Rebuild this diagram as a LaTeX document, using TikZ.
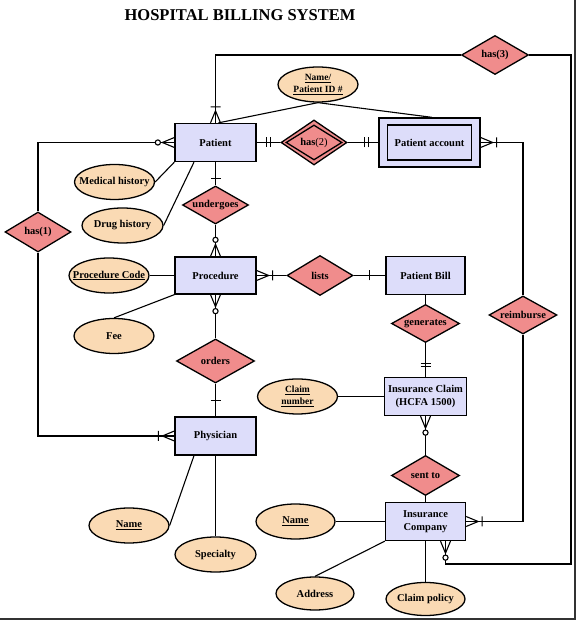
\documentclass[tikz,border=0pt]{standalone}
\usepackage{fontspec}
\setmainfont{Liberation Serif}
\usetikzlibrary{shapes.geometric, positioning, decorations.markings}

\definecolor{entfill}{RGB}{221,221,250}
\definecolor{attfill}{RGB}{250,218,180}
\definecolor{relfill}{RGB}{240,140,140}

\tikzset{
    endmark/.style={line width=1.1pt},
    oneend/.style={postaction={decorate, decoration={markings, mark=at position 1 with {\draw[endmark] (-16pt,-5pt) -- (-16pt,5pt);}}}},
    onlyone/.style={postaction={decorate, decoration={markings, mark=at position 1 with {\draw[endmark] (-10pt,-5pt) -- (-10pt,5pt) (-13.5pt,-5pt) -- (-13.5pt,5pt);}}}},
    onemany/.style={postaction={decorate, decoration={markings, mark=at position 1 with {\draw[endmark] (-12pt,0pt) -- (0pt,5pt) (-12pt,0pt) -- (0pt,-5pt) (-16pt,-5pt) -- (-16pt,5pt);}}}},
    zeromany/.style={postaction={decorate, decoration={markings, mark=at position 1 with {\draw[endmark] (-12pt,0pt) -- (0pt,5pt) (-12pt,0pt) -- (0pt,-5pt); \draw[endmark, fill=white] (-16.5pt,0pt) circle (2.6pt);}}}}
}

\begin{document}
\begin{tikzpicture}[
    x=1pt, y=1pt,
    node distance=100pt,
    entity/.style={rectangle, draw=black, line width=1.3pt, fill=entfill, minimum width=81pt, minimum height=38pt, align=center, font=\bfseries\fontsize{10.5}{12.5}\selectfont},
    attribute/.style={ellipse, draw=black, line width=1.3pt, fill=attfill, minimum width=80pt, minimum height=35pt, inner xsep=-12pt, inner ysep=0pt, align=center, font=\bfseries\fontsize{10.5}{12}\selectfont},
    relation/.style={diamond, draw=black, line width=1.3pt, fill=relfill, aspect=1.75, inner sep=0pt, minimum width=66pt, minimum height=40pt, font=\bfseries\fontsize{10.5}{12}\selectfont},
    connector/.style={line width=1.1pt}
]
\useasboundingbox (0,0) rectangle (576,620);

\node (title) at (240,605) [font=\bfseries\fontsize{16.5}{20}\selectfont] {HOSPITAL BILLING SYSTEM};

% entities and relations
\node (patient) [entity] at (215.5,477.5) {Patient};
\node (has2) [relation, node distance=98.5pt, right of=patient, minimum height=45pt] {};
\node (has2in) [relation, minimum width=56pt, minimum height=35pt] at (has2) {has\textmd{(2)}};
\node (account) [entity, node distance=115.5pt, right of=has2, minimum width=101pt, minimum height=49pt] {};
\node (accountin) [entity, minimum width=84pt, minimum height=35pt] at (account) {Patient account};
\node (undergoes) [relation, node distance=62.5pt, below of=patient, minimum height=38pt] {undergoes};
\node (procedure) [entity, node distance=70.5pt, below of=undergoes, minimum height=37pt] {Procedure};
\node (orders) [relation, node distance=85.5pt, below of=procedure, minimum width=78pt, minimum height=44pt] {orders};
\node (physician) [entity, node distance=75pt, below of=orders] {Physician};
\node (lists) [relation, node distance=104.5pt, right of=procedure] {lists};
\node (bill) [entity, node distance=105.5pt, right of=lists, minimum width=79pt] {Patient Bill};
\node (generates) [relation, node distance=48pt, below of=bill, minimum width=68pt, minimum height=38pt] {generates};
\node (claim) [entity, node distance=73pt, below of=generates, minimum width=79pt] {Insurance Claim\\(HCFA 1500)};
\node (sentto) [relation, node distance=79pt, below of=claim, minimum width=68pt] {sent to};
\node (company) [entity, node distance=46pt, below of=sentto, minimum width=80pt] {Insurance\\Company};
\node (reimburse) [relation, minimum width=68pt, minimum height=38pt] at (523,305) {reimburse};
\node (has1) [relation] at (38,388) {has(1)};
\node (has3) [relation, minimum width=67pt, minimum height=39pt] at (495,565) {has(3)};

% attributes
\node (nameid) [attribute, font=\bfseries\fontsize{9.5}{11.5}\selectfont] at (318,535.5) {\underline{Name/}\\\underline{Patient ID \#}};
\node (medhist) [attribute] at (114.5,438) {Medical history};
\node (drughist) [attribute, minimum width=81pt] at (122.5,394.5) {Drug history};
\node (proccode) [attribute, node distance=106.5pt, left of=procedure] {\underline{Procedure Code}};
\node (fee) [attribute] at (114,284) {Fee};
\node (claimnum) [attribute, node distance=128pt, left of=claim, font=\bfseries\fontsize{9.5}{11.5}\selectfont] {\underline{Claim}\\\underline{number}};
\node (physname) [attribute] at (129,94.5) {\underline{Name}};
\node (specialty) [attribute, minimum width=81pt] at (215.5,65.5) {Specialty};
\node (compname) [attribute, minimum width=79pt, node distance=130pt, left of=company] {\underline{Name}};
\node (address) [attribute, minimum width=78pt, minimum height=33pt] at (315,26.5) {Address};
\node (policy) [attribute, minimum width=79pt, minimum height=33pt, node distance=77.5pt, below of=company] {Claim policy};

\coordinate (cornerne) at (571,565);
\coordinate (cornerse) at (571,56);

% relationships
\draw [connector, onlyone] (has2) -- (patient);
\draw [connector, onlyone] (has2) -- (account);
\draw [connector, oneend] (undergoes) -- (patient);
\draw [connector, zeromany] (undergoes) -- (procedure);
\draw [connector, onemany] (lists) -- (procedure);
\draw [connector, oneend] (lists) -- (bill);
\draw [connector] (bill) -- (generates);
\draw [connector, onlyone] (generates) -- (claim);
\draw [connector, zeromany] (sentto) -- (claim);
\draw [connector] (sentto) -- (company);
\draw [connector, zeromany] (orders) -- (procedure);
\draw [connector, oneend] (orders) -- (physician);
\draw [connector, zeromany] (has1) |- (patient);
\draw [connector, onemany] (has1) |- (physician);
\draw [connector, onemany] (reimburse) |- (account);
\draw [connector, onemany] (reimburse) |- (company);
\draw [connector, onemany] (has3.west) -| (patient.north);
\draw [connector, zeromany] (has3.east) -- (cornerne) -- (cornerse) -| ([xshift=20pt]company.south);

% attribute links
\draw [connector] (nameid.south) -- ([xshift=3pt]patient.north);
\draw [connector] (nameid.south) -- ([xshift=2.5pt]account.north);
\draw [connector] (patient.south west) -- (medhist.east);
\draw [connector] ([xshift=-21.5pt]patient.south) -- (drughist.east);
\draw [connector] (proccode) -- (procedure);
\draw [connector] (fee.north) -- (procedure.south west);
\draw [connector] (claimnum) -- (claim);
\draw [connector] ([xshift=-21.5pt]physician.south) -- (physname.east);
\draw [connector] (physician) -- (specialty);
\draw [connector] (compname) -- (company);
\draw [connector] (address.north) -- (company.south west);
\draw [connector] (company) -- (policy);

% frame
\draw [line width=1.5pt, black!80] (575,620) -- (575,1) -- (0,1);

\end{tikzpicture}
\end{document}
